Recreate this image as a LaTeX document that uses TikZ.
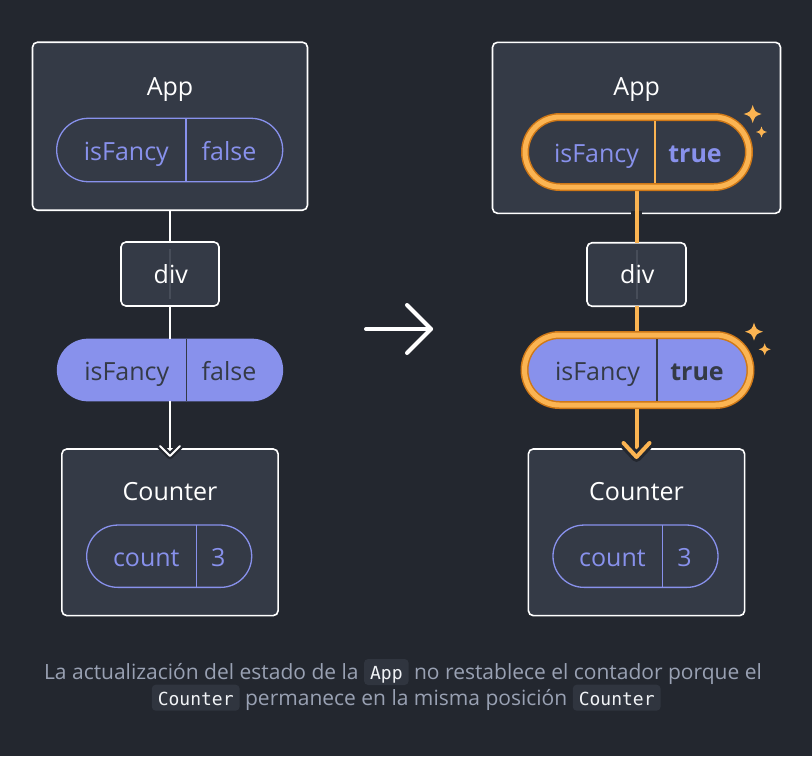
\documentclass[tikz,border=0pt]{standalone}
\usepackage{fontspec}
\setmainfont{Open Sans}
\setmonofont{DejaVu Sans Mono}
\usetikzlibrary{calc}
\definecolor{bg}{HTML}{23272F}
\definecolor{card}{HTML}{343A46}
\definecolor{purp}{HTML}{8891EC}
\definecolor{orl}{HTML}{FBB452}
\definecolor{ord}{HTML}{CF7817}
\definecolor{captc}{HTML}{99A1B3}
\definecolor{chipbg}{HTML}{30353F}
\definecolor{codetx}{HTML}{F1F3F6}
\definecolor{faint}{HTML}{474D59}
\newcommand\chip[1]{\tikz[baseline=(ch.base)]\node[fill=chipbg, rounded corners=4pt, inner xsep=6pt, inner ysep=0pt, text height=20.3pt, text depth=5.7pt, text=codetx, font=\fontsize{18}{20}\ttfamily] (ch) {#1};}
\begin{document}
\begin{tikzpicture}[x=1pt,y=-1pt,
  every node/.style={inner sep=0pt, outer sep=0pt},
  comp/.style={rectangle, draw=white, line width=1.6pt, fill=card, rounded corners=5pt},
  pillo/.style={rectangle, draw=purp, line width=1.3pt, fill=card},
  pillf/.style={rectangle, draw=purp, line width=1.3pt, fill=purp},
  hring/.style={rectangle, draw=ord, double=orl, double distance=5pt, line width=1.5pt, rounded corners=35pt},
  ttl/.style={anchor=base, text=white, font=\fontsize{25}{30}\selectfont},
  ptl/.style={anchor=base, text=purp, font=\fontsize{25}{30}\selectfont},
  ptd/.style={anchor=base, text=card, font=\fontsize{25}{30}\selectfont},
  wline/.style={draw=white, line width=2pt},
  oline/.style={draw=orl, line width=4pt},
  fline/.style={draw=faint, line width=2pt},
  halo/.style={draw=bg, line cap=round, line join=round},
  capt/.style={anchor=base, text=captc, font=\fontsize{21}{25}\selectfont},
  sparkle/.pic={\fill[orl] (0,-1) .. controls (0.25,-0.25) and (0.25,-0.25) .. (1,0) .. controls (0.25,0.25) and (0.25,0.25) .. (0,1) .. controls (-0.25,0.25) and (-0.25,0.25) .. (-1,0) .. controls (-0.25,-0.25) and (-0.25,-0.25) .. (0,-1) -- cycle;
    \fill[orl] (0,0) circle (0.35);}
]
\useasboundingbox (0,0) rectangle (812,756);
\fill[bg] (0,0) rectangle (812,756);

% ---------------- left tree ----------------
\node[comp, minimum width=275pt, minimum height=168pt] (appL) at (170,126.2) {};
\node[ttl] (appLt) at (170,95) {App};
\node[pillo, minimum width=226pt, minimum height=63.4pt, rounded corners=31.6pt] (pL) at (169.7,150) {};
\coordinate (dL) at (186,150);
\draw[purp, line width=1.3pt] (pL.north -| dL) -- (pL.south -| dL);
\node[ptl] (pLa) at (126.3,160) {isFancy};
\node[ptl] (pLb) at (229,160) {false};

\node[comp, minimum width=98pt, minimum height=64pt] (divL) at (170,274) {};
\draw[fline] ($(divL.north)+(0,7)$) -- ($(divL.south)+(0,-7)$);
\node[ttl] (divLt) at (170.8,283.3) {div};

\node[pillf, minimum width=225pt, minimum height=61.4pt, rounded corners=30.6pt] (sL) at (170,370) {};
\coordinate (dsL) at (186.7,370);
\draw[card, line width=1.3pt] (sL.north -| dsL) -- (sL.south -| dsL);
\node[ptd] (sLa) at (126.7,380) {isFancy};
\node[ptd] (sLb) at (229,380) {false};

\node[comp, minimum width=216.3pt, minimum height=166.7pt] (cL) at (170,532.3) {};
\node[ttl] (cLt) at (170,500.7) {Counter};
\node[pillo, minimum width=165pt, minimum height=62.3pt, rounded corners=31pt] (cpL) at (169.2,556.2) {};
\coordinate (dcL) at (196.3,556);
\draw[purp, line width=1.3pt] (cpL.north -| dcL) -- (cpL.south -| dcL);
\node[ptl] (cpLa) at (146.3,566) {count};
\node[ptl] (cpLb) at (218.3,566) {3};

\draw[wline] (appL.south) -- (divL.north);
\draw[wline] (divL.south) -- (sL.north);
\coordinate (tipL) at (170,456);
\draw[wline] (sL.south) -- (tipL);
\draw[halo, line width=6.5pt] (tipL) ++(-10,-10) -- (tipL) -- ++(10,-10);
\draw[wline, line cap=round, line join=round] (tipL) ++(-10,-10) -- (tipL) -- ++(10,-10);

% ---------------- middle arrow ----------------
\coordinate (aS) at (366,329);
\coordinate (aE) at (431,329);
\draw[white, line width=4pt, line cap=round, line join=round] (aS) -- (aE);
\draw[white, line width=4pt, line cap=round, line join=round] (aE) ++(-24,-24) -- (aE) -- ++(-24,24);

% ---------------- right tree ----------------
\node[comp, minimum width=288pt, minimum height=171pt] (appR) at (636.5,127.8) {};
\node[ttl] (appRt) at (636.7,95) {App};

\node[comp, minimum width=99pt, minimum height=63.5pt] (divR) at (636.5,274.5) {};
\draw[fline] ($(divR.north)+(0,7)$) -- ($(divR.south)+(0,-7)$);
\node[ttl] (divRt) at (637.3,283.8) {div};

\node[comp, minimum width=216.3pt, minimum height=166.7pt] (cR) at (636.5,532.3) {};
\node[ttl] (cRt) at (636.5,500.7) {Counter};
\node[pillo, minimum width=165pt, minimum height=62.3pt, rounded corners=31pt] (cpR) at (635.5,556.2) {};
\coordinate (dcR) at (662.5,556);
\draw[purp, line width=1.3pt] (cpR.north -| dcR) -- (cpR.south -| dcR);
\node[ptl] (cpRa) at (612.5,566) {count};
\node[ptl] (cpRb) at (684.5,566) {3};

% orange connectors
\coordinate (tipR) at (636.5,457);
\draw[bg, line width=11pt] ($(appR.south)+(0,-2)$) -- ($(appR.south)+(0,2)$);
\draw[oline] (636.5,187) -- (divR.north);
\draw[oline] (divR.south) -- (636.5,335);
\draw[oline] (636.5,405) -- (tipR);
\draw[halo, line width=10pt] (tipR) ++(-13,-14) -- (tipR) -- ++(13,-14);
\draw[oline, line cap=round, line join=round] (tipR) ++(-13,-14) -- (tipR) -- ++(13,-14);

% highlighted pills
\node[hring, fill=card, minimum width=224pt, minimum height=70pt] (pR) at (637,152) {};
\coordinate (dR) at (655,152);
\draw[orl, line width=1.5pt] ($(pR.north -| dR)+(0,4)$) -- ($(pR.south -| dR)+(0,-4)$);
\node[ptl] (pRa) at (596.5,162) {isFancy};
\node[ptl, font=\fontsize{25}{30}\selectfont\bfseries] (pRb) at (695,162) {true};

\node[hring, fill=purp, minimum width=226pt, minimum height=70pt] (sR) at (637.5,370) {};
\coordinate (dsR) at (657,370);
\draw[card, line width=1.3pt] ($(sR.north -| dsR)+(0,4)$) -- ($(sR.south -| dsR)+(0,-4)$);
\node[ptd] (sRa) at (597.5,380) {isFancy};
\node[ptd, font=\fontsize{25}{30}\selectfont\bfseries] (sRb) at (697,380) {true};

% sparkles
\pic[scale=9] at (752.7,114) {sparkle};
\pic[scale=5.5] at (761.5,132) {sparkle};
\pic[scale=9] at (754,331.7) {sparkle};
\pic[scale=6] at (764.7,349.3) {sparkle};

% ---------------- caption ----------------
\node[capt] (cap1) at (403,679.3) {La actualización del estado de la \chip{App} no restablece el contador porque el};
\node[capt] (cap2) at (406.2,705) {\chip{Counter} permanece en la misma posición \chip{Counter}};
\end{tikzpicture}
\end{document}
